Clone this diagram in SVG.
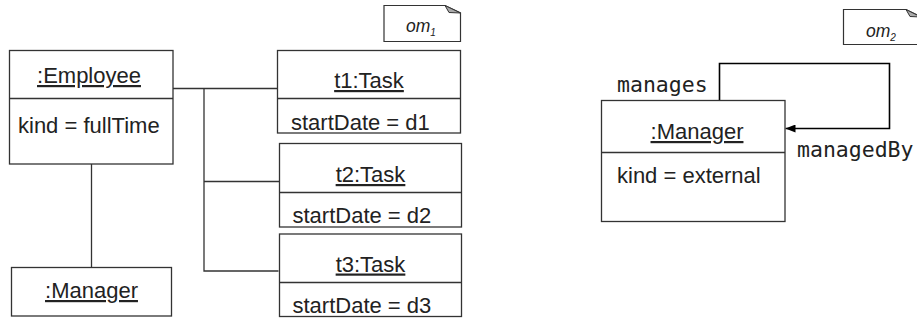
<svg xmlns="http://www.w3.org/2000/svg" width="917" height="320" viewBox="0 0 917 320">
<defs>
<style>
.box{fill:#fff;stroke:#333;stroke-width:1.3}
.div{stroke:#333;stroke-width:1.3}
.t{font-family:"Liberation Sans",Arial,sans-serif;font-size:22px;fill:#222}
.u{text-decoration:underline}
.c{text-anchor:middle}
.m{font-family:"DejaVu Sans Mono","Liberation Mono",monospace;font-size:21.5px;fill:#222}
.n{font-family:"Liberation Sans",Arial,sans-serif;font-style:italic;font-size:17.5px;fill:#222}
.s{font-size:10px}
.line{fill:none;stroke:#333;stroke-width:1.3}
.note{fill:#fff;stroke:#333;stroke-width:1.2}
.fold{fill:#aaa;stroke:#333;stroke-width:1}
</style>
<marker id="arr" viewBox="0 0 10 8" refX="10" refY="4" markerWidth="10" markerHeight="8" markerUnits="userSpaceOnUse" orient="auto">
<path d="M0,0 L10,4 L0,8 Z" fill="#000"/>
</marker>
</defs>
<g id="connectors">
<line class="line" x1="91.5" y1="164" x2="91.5" y2="267.5"/>
<line class="line" x1="173" y1="88.5" x2="277.5" y2="88.5"/>
<polyline class="line" points="204,88.5 204,271 278.5,271"/>
<line class="line" x1="204" y1="181.5" x2="279.5" y2="181.5"/>
<path d="M719.5,100.5 V63.5 H889.5 V128.5 H785.5" fill="none" stroke="#000" stroke-width="1.6" marker-end="url(#arr)"/>
<text class="m" x="617" y="91.5">manages</text>
<text class="m" x="797" y="157">managedBy</text>
</g>
<g id="note-om1">
<path class="note" d="M384,5.5 H445 L460.5,13 V41.5 H384 Z"/>
<polygon class="fold" points="445,5.5 449,12.5 460.5,13"/>
<text class="n" x="406" y="31.5">om<tspan class="s" dy="4.5">1</tspan></text>
</g>
<g id="note-om2">
<path class="note" d="M843.5,9.5 H906 L921,17 V44.5 H843.5 Z"/>
<polygon class="fold" points="906,9.5 910,16.5 921,17"/>
<text class="n" x="866" y="36.5">om<tspan class="s" dy="4.5">2</tspan></text>
</g>
<g id="employee">
<rect class="box" x="9.5" y="50.5" width="163.5" height="113.5"/>
<line class="div" x1="9.5" y1="98.5" x2="173" y2="98.5"/>
<text class="t c u" x="89" y="83">:Employee</text>
<text class="t" x="18" y="133">kind = fullTime</text>
</g>
<g id="manager1">
<rect class="box" x="11.5" y="267.5" width="160" height="48.5"/>
<text class="t c u" x="91.5" y="298">:Manager</text>
</g>
<g id="t1">
<rect class="box" x="277.5" y="50.5" width="183" height="82.5"/>
<line class="div" x1="277.5" y1="98.5" x2="460.5" y2="98.5"/>
<text class="t c u" x="369" y="88">t1:Task</text>
<text class="t" x="291" y="130">startDate = d1</text>
</g>
<g id="t2">
<rect class="box" x="279.5" y="143.5" width="182" height="83.5"/>
<line class="div" x1="279.5" y1="192.5" x2="461.5" y2="192.5"/>
<text class="t c u" x="370.5" y="182">t2:Task</text>
<text class="t" x="292.5" y="223">startDate = d2</text>
</g>
<g id="t3">
<rect class="box" x="279.5" y="234" width="182" height="82.5"/>
<line class="div" x1="279.5" y1="282.5" x2="461.5" y2="282.5"/>
<text class="t c u" x="370.5" y="271.5">t3:Task</text>
<text class="t" x="292.5" y="313">startDate = d3</text>
</g>
<g id="manager2">
<rect class="box" x="601.5" y="100.5" width="183.5" height="121"/>
<line class="div" x1="601.5" y1="152.5" x2="785" y2="152.5"/>
<text class="t c u" x="697" y="139">:Manager</text>
<text class="t" x="617" y="183">kind = external</text>
</g>
</svg>
